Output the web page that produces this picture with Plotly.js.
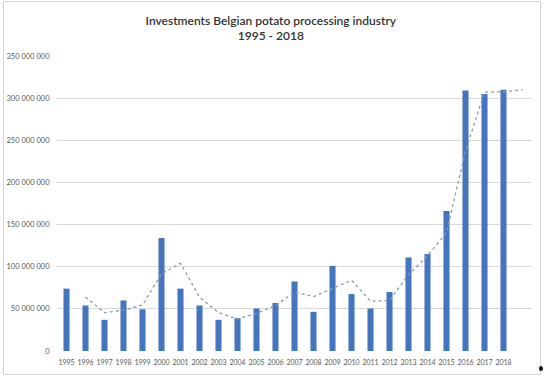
<!DOCTYPE html>
<html>
<head>
<meta charset="utf-8">
<script src="https://cdn.plot.ly/plotly-3.0.1.min.js"></script>
<style>
  html, body { margin: 0; padding: 0; background: #fff; }
  #wrap { position: relative; width: 545px; height: 377px; }
  #chart { width: 545px; height: 377px; }
  #frame { position: absolute; left: 3px; top: 1px; width: 536px; height: 372px; border: 1px solid #d4d4d4; pointer-events: none; }
  #dot { position: absolute; left: 539px; top: 366px; width: 4px; height: 5px; border-radius: 50%; background: #111; }
</style>
</head>
<body>
<div id="wrap">
  <div id="chart"></div>
  <div id="frame"></div>
  <div id="dot"></div>
</div>
<script>
const years = [1995,1996,1997,1998,1999,2000,2001,2002,2003,2004,2005,2006,2007,2008,2009,2010,2011,2012,2013,2014,2015,2016,2017,2018];
const investments = [74000000,54000000,37000000,60000000,49500000,134000000,74000000,54000000,37000000,39000000,50500000,57000000,82500000,46500000,101000000,67500000,50500000,70000000,111000000,115000000,166000000,309000000,305000000,310000000];
const trendYears = [1996,1997,1998,1999,2000,2001,2002,2003,2004,2005,2006,2007,2008,2009,2010,2011,2012,2013,2014,2015,2016,2017,2018,2019];
const trendValues = [64000000,45500000,48500000,54500000,91500000,104000000,64000000,45500000,38000000,44500000,54000000,70000000,64500000,74000000,84000000,59000000,60000000,90500000,113000000,140500000,237500000,307000000,307500000,310000000];
const yTicks = [0,50000000,100000000,150000000,200000000,250000000,300000000,350000000];
const yTickLabels = ['0','50 000 000','100 000 000','150 000 000','200 000 000','250 000 000','300 000 000','350 000 000'];
const xTickLabels = years.map(String);

const fontFam = 'Lato, "Open Sans", sans-serif';

const data = [
  {
    type: 'bar',
    x: years,
    y: investments,
    marker: { color: '#4575be' },
    hoverinfo: 'x+y'
  },
  {
    type: 'scatter',
    mode: 'lines',
    x: trendYears,
    y: trendValues,
    line: { color: '#8a9ab0', width: 1.3, dash: 'dot' },
    hoverinfo: 'skip'
  }
];

const layout = {
  width: 545,
  height: 377,
  margin: { l: 57, r: 13, t: 56, b: 26 },
  paper_bgcolor: '#ffffff',
  plot_bgcolor: '#ffffff',
  showlegend: false,
  bargap: 0.68,
  title: {
    text: 'Investments Belgian potato processing industry<br>1995 - 2018',
    font: { family: fontFam, size: 12, color: '#333333', weight: 600 },
    x: 0.497,
    xref: 'container',
    xanchor: 'center',
    yref: 'container',
    y: 0.934,
    yanchor: 'top'
  },
  xaxis: {
    type: 'linear',
    range: [1994.5, 2019.5],
    tickvals: years,
    ticktext: xTickLabels,
    showgrid: false,
    zeroline: false,
    showline: false,
    ticks: 'outside',
    ticklen: 5,
    tickcolor: 'rgba(0,0,0,0)',
    tickfont: { family: fontFam, size: 7, color: '#595959' },
    tickangle: 0,
    fixedrange: true
  },
  yaxis: {
    range: [0, 350000000],
    tickvals: yTicks,
    ticktext: yTickLabels,
    showgrid: true,
    gridcolor: '#d9d9d9',
    gridwidth: 1,
    zeroline: false,
    showline: false,
    ticks: 'outside',
    ticklen: 5,
    tickcolor: 'rgba(0,0,0,0)',
    tickfont: { family: fontFam, size: 7.5, color: '#595959' },
    fixedrange: true
  }
};

Plotly.newPlot('chart', data, layout, { displayModeBar: false, staticPlot: true });
</script>
</body>
</html>
